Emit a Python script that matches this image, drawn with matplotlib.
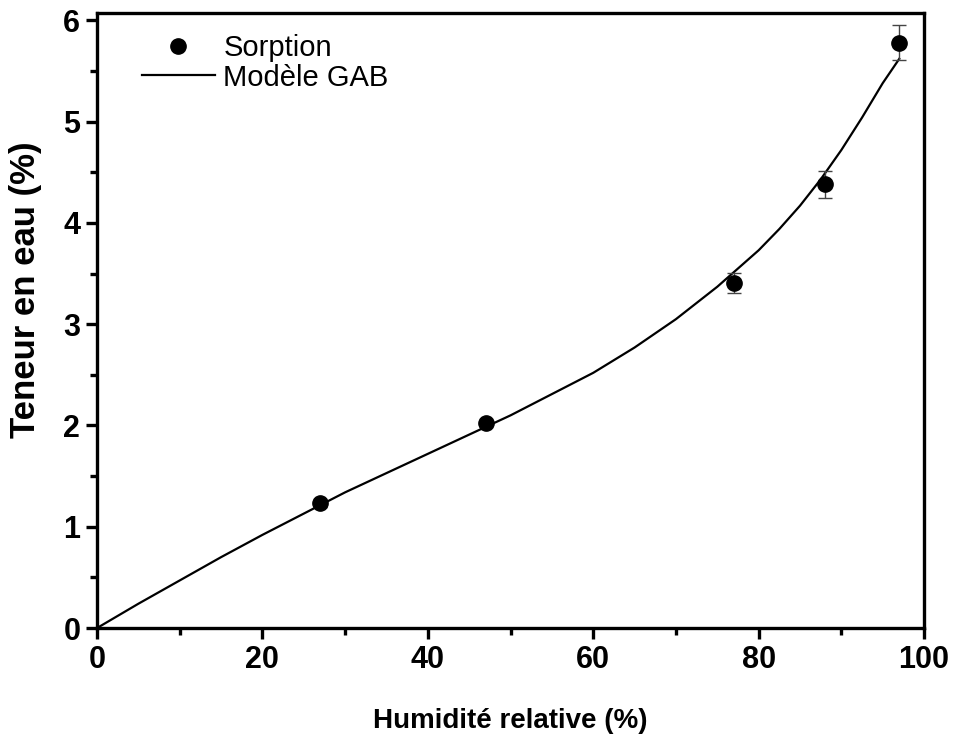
import matplotlib.pyplot as plt
from matplotlib.ticker import MultipleLocator

plt.rcParams['font.family'] = ['Liberation Sans', 'DejaVu Sans']

# points de sorption mesurés
humidite = [27, 47, 77, 88, 97]
teneur = [1.23, 2.02, 3.41, 4.38, 5.78]
erreur = [0.03, 0.03, 0.10, 0.13, 0.17]

# courbe du modèle GAB
hr_gab = [0, 5, 10, 15, 20, 25, 30, 35, 40, 45, 50, 55, 60, 65, 70, 75, 80,
          82.5, 85, 87.5, 90, 92.5, 95, 97]
teneur_gab = [0, 0.24, 0.47, 0.70, 0.92, 1.13, 1.34, 1.53, 1.72, 1.91, 2.10, 2.31, 2.52,
              2.77, 3.05, 3.37, 3.73, 3.94, 4.17, 4.43, 4.72, 5.04, 5.38, 5.62]

fig = plt.figure(figsize=(9.55, 7.38), dpi=100)
ax = fig.add_axes([0.1016, 0.149, 0.866, 0.833])

pts = ax.errorbar(humidite, teneur, yerr=erreur, fmt='o', color='black', markersize=11,
                  ecolor='#444444', elinewidth=1, capsize=5, capthick=1, zorder=3)
ligne, = ax.plot(hr_gab, teneur_gab, color='black', linewidth=1.6)

ax.set_xlim(0, 100)
ax.set_ylim(0, 6.07)
ax.xaxis.set_major_locator(MultipleLocator(20))
ax.xaxis.set_minor_locator(MultipleLocator(10))
ax.yaxis.set_major_locator(MultipleLocator(1))
ax.yaxis.set_minor_locator(MultipleLocator(0.5))

for s in ax.spines.values():
    s.set_linewidth(2.4)
ax.tick_params(which='major', direction='out', length=8, width=2.4, labelsize=22, pad=4)
ax.tick_params(which='minor', direction='out', length=5, width=2.4)
for lab in ax.get_xticklabels() + ax.get_yticklabels():
    lab.set_fontweight('bold')

ax.set_xlabel('Humidité relative (%)', fontsize=20, fontweight='bold', labelpad=24)
ax.set_ylabel('Teneur en eau (%)', fontsize=25, fontweight='bold')
ax.yaxis.set_label_coords(-0.066, 0.55)

# légende : on garde seulement le marqueur (sans barre d'erreur)
ax.legend([pts[0], ligne], ['Sorption', 'Modèle GAB'], loc='upper left', frameon=False,
          fontsize=21, handlelength=2.5, bbox_to_anchor=(0.04, 0.985),
          borderaxespad=0.0, labelspacing=0.05, handletextpad=0.3)

fig.savefig('out.png', dpi=100)
